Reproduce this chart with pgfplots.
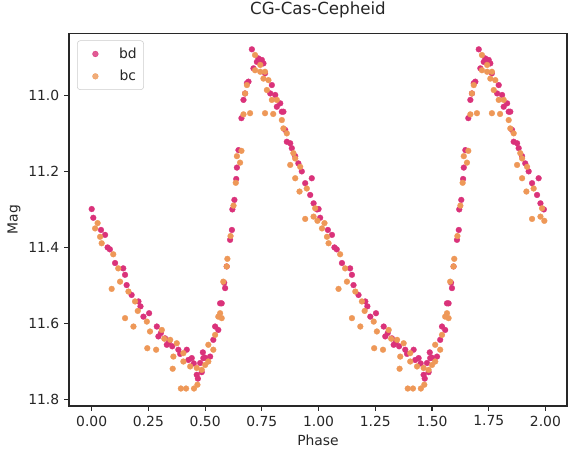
\documentclass[border=0pt]{standalone}
\usepackage{fontspec}
\setmainfont{DejaVu Sans}
\usepackage{pgfplots}
\pgfplotsset{compat=1.18}
\usepackage{pgfplotstable}
\definecolor{bdcol}{RGB}{218,50,122}
\definecolor{bccol}{RGB}{238,152,88}
\definecolor{spinecol}{RGB}{40,40,40}

\pgfplotstableread{
ph mag
0.000 11.299
0.007 11.322
0.041 11.354
0.059 11.367
0.070 11.400
0.080 11.405
0.103 11.441
0.139 11.455
0.147 11.472
0.154 11.499
0.176 11.525
0.206 11.542
0.215 11.555
0.228 11.582
0.253 11.573
0.287 11.608
0.294 11.634
0.305 11.625
0.323 11.639
0.331 11.656
0.340 11.650
0.355 11.660
0.382 11.669
0.390 11.680
0.419 11.669
0.426 11.696
0.441 11.691
0.450 11.705
0.463 11.735
0.468 11.745
0.478 11.704
0.485 11.728
0.492 11.691
0.490 11.676
0.500 11.690
0.522 11.687
0.536 11.643
0.544 11.608
0.558 11.617
0.566 11.547
0.573 11.547
0.584 11.493
0.588 11.507
0.595 11.450
0.610 11.380
0.618 11.354
0.620 11.300
0.629 11.275
0.637 11.220
0.640 11.190
0.647 11.144
0.660 11.060
0.669 11.012
0.676 10.995
0.684 10.968
0.691 10.964
0.706 10.879
0.713 10.929
0.728 10.912
0.735 10.903
0.750 10.907
0.757 10.916
0.764 10.942
0.787 10.995
0.794 10.973
0.809 10.999
0.816 11.030
0.831 11.021
0.838 11.043
0.845 11.043
0.853 11.091
0.860 11.122
0.875 11.126
0.882 11.139
0.897 11.160
0.911 11.179
0.926 11.200
0.941 11.231
0.963 11.262
0.970 11.218
0.978 11.284
0.993 11.300
}\bd

\pgfplotstableread{
ph mag
0.015 11.350
0.026 11.336
0.037 11.372
0.044 11.389
0.088 11.509
0.095 11.418
0.117 11.455
0.125 11.490
0.147 11.586
0.162 11.516
0.184 11.608
0.191 11.542
0.203 11.567
0.243 11.595
0.245 11.665
0.257 11.621
0.284 11.669
0.309 11.617
0.320 11.640
0.346 11.643
0.357 11.719
0.360 11.687
0.375 11.652
0.393 11.771
0.404 11.678
0.404 11.700
0.416 11.771
0.434 11.713
0.451 11.771
0.463 11.717
0.466 11.761
0.485 11.722
0.500 11.709
0.514 11.700
0.514 11.656
0.536 11.669
0.544 11.630
0.558 11.582
0.566 11.573
0.573 11.586
0.580 11.490
0.595 11.450
0.598 11.430
0.612 11.370
0.625 11.290
0.635 11.230
0.640 11.160
0.654 11.177
0.660 11.146
0.669 11.050
0.676 10.995
0.684 10.973
0.698 11.047
0.720 10.894
0.720 10.934
0.743 10.920
0.743 10.938
0.757 10.956
0.764 10.938
0.764 11.047
0.772 10.986
0.779 10.960
0.794 11.012
0.800 11.049
0.816 11.012
0.838 11.065
0.845 11.087
0.860 11.100
0.875 11.183
0.889 11.152
0.897 11.166
0.897 11.218
0.916 11.253
0.919 11.188
0.941 11.325
0.948 11.245
0.978 11.319
0.985 11.297
0.995 11.330
}\bc

\begin{document}
\begin{tikzpicture}
\path[use as bounding box] (-49.68pt,-33.12pt) rectangle (359.28pt,292.32pt);
\begin{axis}[
  at={(0,0)}, anchor=south west,
  scale only axis, width=358.56pt, height=268.3pt,
  xmin=-0.1001, xmax=2.095, ymin=10.837, ymax=11.817, y dir=reverse,
  axis line style={spinecol, line width=0.8pt},
  xtick={0,0.25,0.5,0.75,1,1.25,1.5,1.75,2},
  ytick={11.0,11.2,11.4,11.6,11.8},
  xticklabel style={/pgf/number format/.cd, fixed, fixed zerofill, precision=2},
  yticklabel style={/pgf/number format/.cd, fixed, fixed zerofill, precision=1},
  /pgf/number format/assume math mode=true,
  tick align=outside, xtick pos=bottom, ytick pos=left,
  major tick length=3.5pt,
  every tick/.style={spinecol, line width=0.8pt},
  tick label style={font=\fontsize{10}{12}\selectfont, text=black!85},
  title={CG-Cas-Cepheid},
  title style={at={(axis description cs:0.5,1)}, anchor=base, yshift=7.4pt, font=\fontsize{12}{14}\selectfont, text=black!85},
  xlabel={Phase},
  xlabel style={at={(axis description cs:0.5,0)}, anchor=base, yshift=-28.4pt, font=\fontsize{10}{12}\selectfont, text=black!85},
  ylabel={Mag},
  ylabel style={at={(axis description cs:-0.1104,0.5)}, anchor=center, font=\fontsize{10}{12}\selectfont, text=black!85},
  legend style={at={(axis description cs:0.0162,0.981)}, anchor=north west,
    draw=black!20, rounded corners=2pt, fill=white, fill opacity=0.8, text opacity=1,
    font=\fontsize{10}{12}\selectfont, text=black!85, row sep=3pt, inner xsep=3pt, inner ysep=3pt},
  legend image code/.code={\path[draw=none, fill=none] (0pt,-2pt) rectangle (25pt,2pt); \draw[#1] plot coordinates {(10pt,0pt)};},
  clip=false,
]
\addplot[only marks, mark=*, mark size=2.1pt, color=bdcol, mark options={line width=0.2pt}] table[x=ph, y=mag] {\bd};
\addlegendentry{bd}
\addplot[forget plot, only marks, mark=*, mark size=2.1pt, color=bdcol, mark options={line width=0.2pt}] table[x expr=\thisrow{ph}+1, y=mag] {\bd};
\addplot[only marks, mark=*, mark size=2.1pt, color=bccol, mark options={line width=0.2pt}] table[x=ph, y=mag] {\bc};
\addlegendentry{bc}
\addplot[forget plot, only marks, mark=*, mark size=2.1pt, color=bccol, mark options={line width=0.2pt}] table[x expr=\thisrow{ph}+1, y=mag] {\bc};
\end{axis}
\end{tikzpicture}
\end{document}
